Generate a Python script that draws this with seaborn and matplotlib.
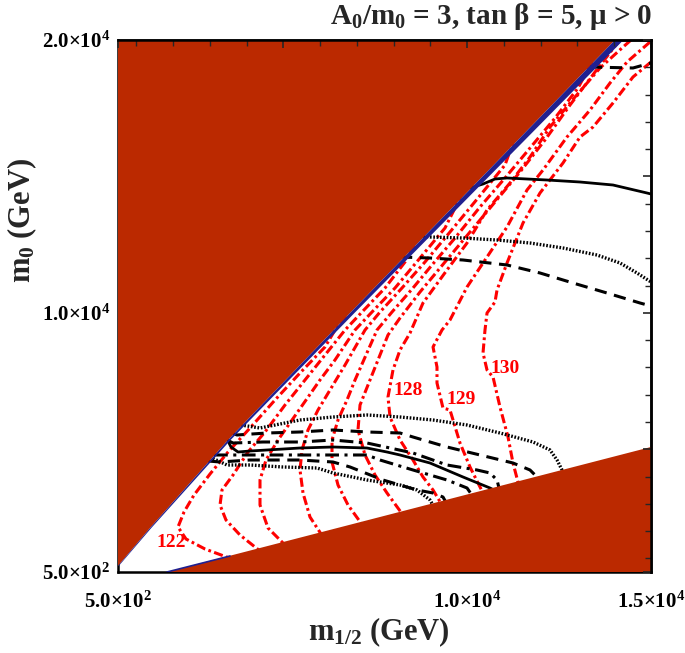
import matplotlib
matplotlib.use("Agg")
import matplotlib.pyplot as plt
from matplotlib.ticker import FixedLocator, FixedFormatter
import seaborn as sns

# ------------------ data (m_1/2, m_0 in GeV) ------------------
# excluded region, upper left (boundary from bottom to top edge)
edge_x = [500, 1371, 3493, 6812, 14021]
edge_y = [720, 2113, 5338, 9993, 20000]
band_w = [20, 35, 70, 120, 230]         # width of the blue strip along that edge

# excluded region, lower right
wedge_x = [1833, 15000]
wedge_y = [500, 5082]

# Higgs mass contours (red dash-dot)
h122_x = [6703, 6485, 6131, 5451, 4771, 4091, 3493, 3003, 2568, 2296, 2132, 2350, 2867, 3819]
h122_y = [9883, 9554, 8747, 7794, 6804, 5778, 4898, 4092, 3322, 2699, 2149, 1710, 1343, 867]
h123_x = [8553, 8308, 7764, 7138, 6676, 6131, 5587, 5043, 4499, 4037, 3629, 3329, 3275, 3438, 3819, 4499]
h123_y = [12486, 11863, 10910, 10030, 9370, 8454, 7538, 6621, 5632, 4898, 4055, 3506, 2956, 2406, 1856, 1123]
h124_x = [9886, 9396, 8716, 8036, 7410, 6948, 6403, 5995, 5615, 5234, 4853, 4526, 4363, 4363, 4581, 5179]
h124_y = [14429, 13109, 12009, 10910, 10030, 9370, 8271, 7538, 6804, 6071, 5338, 4605, 3872, 2956, 2113, 1306]
h125_x = [11300, 11028, 10294, 9532, 8851, 8226, 7628, 7220, 6676, 6267, 5941, 5669, 5506, 5451, 5533, 5723, 6131]
h125_y = [16445, 15418, 14209, 12962, 11863, 10910, 10030, 9370, 8087, 7171, 6438, 5705, 4972, 4239, 3396, 2516, 1673]
h126_x = [13396, 13014, 12389, 11709, 11028, 10348, 9668, 9042, 8525, 7954, 7546, 7247, 6948, 6730, 6485, 6322, 6322, 6485, 6757, 7247]
h126_y = [19194, 18240, 17141, 16041, 14942, 13879, 12742, 11753, 10910, 10030, 9370, 8454, 7538, 6804, 6071, 5338, 4532, 3689, 2956, 2039]
h127_x = [14157, 13939, 13477, 12797, 12116, 11436, 10756, 10076, 9396, 8716, 8172, 7845, 7573, 7301, 7084, 7029, 7220, 7492, 7818, 8253]
h127_y = [20000, 19633, 18827, 17617, 16335, 15162, 14062, 12962, 11863, 10763, 9810, 9187, 8271, 7354, 6621, 5705, 4789, 4055, 3396, 2589]
h128_x = [14456, 14211, 13613, 12933, 12253, 11709, 11164, 10539, 9995, 9450, 8797, 8444, 8172, 7981, 7845, 7900, 8172, 8525, 8797, 9070, 9396]
h128_y = [20000, 19707, 18974, 17911, 16811, 15711, 14758, 13769, 12559, 11570, 10360, 9260, 8637, 7904, 6914, 6181, 5338, 4605, 3982, 3506, 2773]
h129_x = [14973, 14347, 13885, 13341, 12715, 12062, 11627, 11083, 10539, 9995, 9532, 9314, 9070, 9178, 9178, 9341, 9532, 9804, 10076, 10348, 10484]
h129_y = [19927, 19194, 18424, 17434, 16445, 15235, 14502, 13146, 12046, 10946, 9737, 9370, 8747, 8014, 7428, 6511, 6438, 5228, 4349, 3616, 3249]
h130_x = [15000, 14510, 13966, 13423, 13069, 12606, 11980, 11518, 11083, 10811, 10756, 10539, 10484, 10430, 10539, 10702, 10892, 11110, 11246, 11400]
h130_y = [19194, 18644, 17691, 16811, 16445, 15492, 14392, 13292, 11826, 10836, 10397, 9993, 9370, 8527, 7904, 7648, 6548, 5448, 4495, 3700]

mh_labels = ["122", "128", "129", "130"]
mh_label_x = [1942, 8389, 9831, 11028]
mh_label_y = [1563, 7171, 6841, 7941]

# black band (solid centre, dash-dot, dashed, dotted)
solid_lo_x = [3438, 3574, 3765, 4091, 4554, 5451, 6349, 7274, 7818, 8172, 8988, 9886, 10620, 10892]
solid_lo_y = [5448, 5082, 4898, 4935, 4972, 5045, 5082, 5045, 4898, 4789, 4495, 3982, 3579, 3396]
solid_hi_x = [10076, 10430, 10756, 11083, 12171, 13069, 13966, 14891, 15000]
solid_hi_y = [14575, 14722, 14905, 14942, 14868, 14795, 14685, 14392, 14355]
dashdot_a_x = [3520, 3629, 4445, 5451, 6349, 7274, 8525, 9450, 10267, 10620, 10811, 10892]
dashdot_a_y = [5302, 5228, 5265, 5265, 5338, 5228, 4862, 4422, 4239, 4129, 3872, 3432]
dashdot_b_x = [3112, 3819, 4989, 6349, 7274, 7628, 8525, 9450, 9995, 10185]
dashdot_b_y = [4789, 4789, 4789, 4789, 4789, 4605, 4239, 3872, 3579, 3212]
dashed_a_x = [3601, 3737, 4554, 5451, 6349, 7274, 8172, 8525, 9450, 10348, 11246, 11709, 11899, 11980]
dashed_a_y = [5595, 5522, 5595, 5632, 5705, 5632, 5595, 5448, 5082, 4789, 4495, 4239, 3982, 3726]
dashed_b_x = [2948, 3275, 4091, 5451, 6349, 6812, 7709, 8634, 9070, 9341, 9478]
dashed_b_y = [4569, 4532, 4605, 4605, 4532, 4349, 3872, 3506, 3396, 3249, 2919]
dotted_a_x = [3846, 4363, 5451, 6349, 7274, 8172, 9070, 9995, 10892, 11790, 12253, 12443, 12579, 12660]
dotted_a_y = [5888, 5778, 6071, 6181, 6255, 6181, 6071, 5888, 5595, 5265, 4972, 4605, 4239, 3945]
dotted_b_x = [3003, 3465, 4091, 4989, 5914, 6349, 7274, 8172, 8634, 8988, 9097]
dotted_b_y = [4715, 4422, 4422, 4349, 4312, 4129, 3872, 3689, 3506, 3139, 2883]
dotted_hi_x = [8716, 8988, 9886, 10811, 11709, 12606, 13531, 14157, 14619, 15000]
dotted_hi_y = [12816, 12779, 12742, 12669, 12559, 12376, 12119, 11826, 11460, 11130]
dashed_hi_x = [8172, 8988, 9886, 11083, 11980, 12878, 13803, 14701, 15000]
dashed_hi_y = [12046, 12009, 11936, 11753, 11460, 11093, 10726, 10360, 10250]
dashed_top_x = [13341, 14510, 15000]
dashed_top_y = [19010, 18974, 19157]

x_major = [500, 5000, 10000, 15000]
x_major_labels = [r"$\mathbf{5.0{\times}10^{2}}$", "", r"$\mathbf{1.0{\times}10^{4}}$", r"$\mathbf{1.5{\times}10^{4}}$"]
y_major = [500, 5000, 10000, 15000, 20000]
y_major_labels = [r"$\mathbf{5.0{\times}10^{2}}$", "", r"$\mathbf{1.0{\times}10^{4}}$", "", r"$\mathbf{2.0{\times}10^{4}}$"]
x_minor = list(range(1000, 15000, 1000))
y_minor = list(range(1000, 20000, 1000))

# ------------------ style ------------------
sns.set_theme(style="white")
plt.rcParams["font.family"] = ["Liberation Serif", "DejaVu Serif"]
plt.rcParams["font.weight"] = "bold"
plt.rcParams["mathtext.fontset"] = "custom"
plt.rcParams["mathtext.rm"] = "Liberation Serif:bold"
plt.rcParams["mathtext.bf"] = "Liberation Serif:bold"
plt.rcParams["mathtext.it"] = "Liberation Serif:bold:italic"

BROWN = "#BB2900"
NAVY = "#202090"
RED = "#FF0000"
red_dd = (0, (3.0, 1.1, 0.9, 1.1))

fig = plt.figure(figsize=(6.85, 6.53), dpi=100)
ax = fig.add_axes([118 / 685, 1 - 572 / 653, 533 / 685, 532 / 653])

# ------------------ Higgs mass contours ------------------
mh_lines = [(h122_x, h122_y), (h123_x, h123_y), (h124_x, h124_y), (h125_x, h125_y),
            (h126_x, h126_y), (h127_x, h127_y), (h128_x, h128_y), (h129_x, h129_y),
            (h130_x, h130_y)]
for xs, ys in mh_lines:
    sns.lineplot(x=xs, y=ys, sort=False, estimator=None, ax=ax, color=RED,
                 lw=2.2, linestyle=red_dd, zorder=2)

for txt, lx, ly in zip(mh_labels, mh_label_x, mh_label_y):
    ax.text(lx, ly, txt, color=RED, fontsize=14, fontweight="bold",
            ha="center", va="center", zorder=2.5)

# ------------------ black band ------------------
black_lines = [
    (solid_lo_x, solid_lo_y, "-", 2.0),
    (solid_hi_x, solid_hi_y, "-", 2.0),
    (dashdot_a_x, dashdot_a_y, (0, (4.5, 1.8, 1.0, 1.8)), 2.2),
    (dashdot_b_x, dashdot_b_y, (0, (4.5, 1.8, 1.0, 1.8)), 2.2),
    (dashed_a_x, dashed_a_y, (0, (4, 2.5)), 2.2),
    (dashed_b_x, dashed_b_y, (0, (4, 2.5)), 2.2),
    (dashed_hi_x, dashed_hi_y, (0, (4, 2.5)), 2.2),
    (dashed_top_x, dashed_top_y, (0, (4, 2.5)), 2.2),
    (dotted_a_x, dotted_a_y, (0, (0.5, 0.5)), 2.4),
    (dotted_b_x, dotted_b_y, (0, (0.5, 0.5)), 2.4),
    (dotted_hi_x, dotted_hi_y, (0, (0.5, 0.5)), 2.4),
]
for xs, ys, ls, w in black_lines:
    sns.lineplot(x=xs, y=ys, sort=False, estimator=None, ax=ax, color="black",
                 lw=w, linestyle=ls, zorder=2.2)

# ------------------ excluded regions ------------------
ax.fill(edge_x + [edge_x[0]], edge_y + [20000], color=BROWN, lw=0, zorder=3)
band_x = edge_x + [x + w for x, w in zip(edge_x, band_w)][::-1]
band_y = edge_y + edge_y[::-1]
ax.fill(band_x, band_y, color=NAVY, lw=0, zorder=3.5)
ax.fill(wedge_x + [15000], wedge_y + [500], color=BROWN, lw=0, zorder=3)
ax.plot([wedge_x[0], 3547], [wedge_y[0], 1087], color=NAVY, lw=1.2, zorder=3.5)

# ------------------ axes ------------------
ax.set_xlim(500, 15000)
ax.set_ylim(500, 20000)
ax.xaxis.set_major_locator(FixedLocator(x_major))
ax.xaxis.set_major_formatter(FixedFormatter(x_major_labels))
ax.yaxis.set_major_locator(FixedLocator(y_major))
ax.yaxis.set_major_formatter(FixedFormatter(y_major_labels))
ax.xaxis.set_minor_locator(FixedLocator(x_minor))
ax.yaxis.set_minor_locator(FixedLocator(y_minor))
ax.tick_params(which="major", direction="out", length=5, width=1.2, labelsize=15, colors="black")
ax.tick_params(which="minor", direction="out", length=3, width=1.0)
ax.tick_params(axis="x", pad=9)
ax.tick_params(axis="y", pad=1)

top = ax.secondary_xaxis("top")
top.xaxis.set_major_locator(FixedLocator(x_major))
top.xaxis.set_minor_locator(FixedLocator(x_minor))
top.tick_params(which="major", direction="in", length=6, width=1.2, labeltop=False)
top.tick_params(which="minor", direction="in", length=4, width=1.0)
right = ax.secondary_yaxis("right")
right.yaxis.set_major_locator(FixedLocator(y_major))
right.yaxis.set_minor_locator(FixedLocator(y_minor))
right.tick_params(which="major", direction="in", length=6, width=1.2, labelright=False)
right.tick_params(which="minor", direction="in", length=4, width=1.0)
for a in (ax, top, right):
    for s in a.spines.values():
        s.set_linewidth(1.8)
        s.set_color("black")
    a.set_zorder(5)

ax.set_xlabel(r"$\mathbf{m_{1/2}}$ (GeV)", fontsize=22, fontweight="bold", va="center")
ax.set_ylabel(r"$\mathbf{m_0}$ (GeV)", fontsize=22, fontweight="bold", va="center")
ax.xaxis.set_label_coords(0.49, -0.113)
ax.yaxis.set_label_coords(-0.18, 0.66)
ax.text(1.003, 1.015, r"$\mathbf{A_0/m_0}$ = 3, tan β = 5, μ > 0", transform=ax.transAxes,
        ha="right", va="bottom", fontsize=21, fontweight="bold")

fig.savefig("out.png", dpi=100)
